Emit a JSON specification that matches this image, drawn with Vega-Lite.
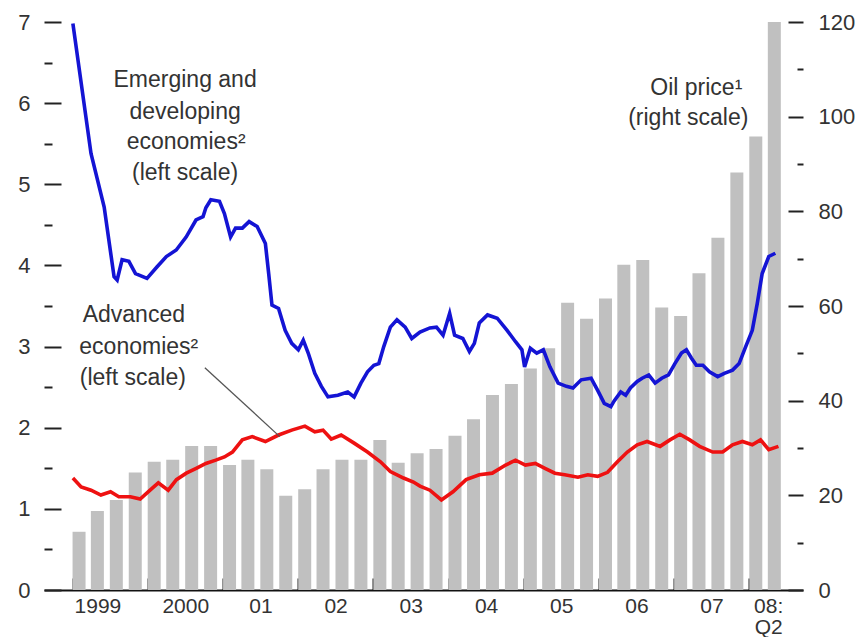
{
  "$schema": "https://vega.github.io/schema/vega-lite/v6.json",
  "width": 759,
  "height": 568,
  "autosize": {"type": "none"},
  "padding": {"left": 44, "top": 22, "right": 56, "bottom": 47},
  "background": "white",
  "config": {
    "view": {"stroke": null},
    "axis": {"labelFont": "Liberation Sans", "labelFontSize": 22, "labelColor": "#333", "tickColor": "#222", "grid": false, "title": null}
  },
  "datasets": {
    "oil": [
      {"q": "1999-02-01", "p": 12.3}, {"q": "1999-05-01", "p": 16.7}, {"q": "1999-08-01", "p": 19.0}, {"q": "1999-11-01", "p": 24.8},
      {"q": "2000-02-01", "p": 27.1}, {"q": "2000-05-01", "p": 27.5}, {"q": "2000-08-01", "p": 30.4}, {"q": "2000-11-01", "p": 30.4},
      {"q": "2001-02-01", "p": 26.4}, {"q": "2001-05-01", "p": 27.5}, {"q": "2001-08-01", "p": 25.5}, {"q": "2001-11-01", "p": 19.9},
      {"q": "2002-02-01", "p": 21.3}, {"q": "2002-05-01", "p": 25.5}, {"q": "2002-08-01", "p": 27.5}, {"q": "2002-11-01", "p": 27.5},
      {"q": "2003-02-01", "p": 31.7}, {"q": "2003-05-01", "p": 26.9}, {"q": "2003-08-01", "p": 28.9}, {"q": "2003-11-01", "p": 29.8},
      {"q": "2004-02-01", "p": 32.6}, {"q": "2004-05-01", "p": 36.1}, {"q": "2004-08-01", "p": 41.2}, {"q": "2004-11-01", "p": 43.5},
      {"q": "2005-02-01", "p": 46.8}, {"q": "2005-05-01", "p": 51.1}, {"q": "2005-08-01", "p": 60.7}, {"q": "2005-11-01", "p": 57.3},
      {"q": "2006-02-01", "p": 61.6}, {"q": "2006-05-01", "p": 68.7}, {"q": "2006-08-01", "p": 69.7}, {"q": "2006-11-01", "p": 59.7},
      {"q": "2007-02-01", "p": 57.9}, {"q": "2007-05-01", "p": 66.9}, {"q": "2007-08-01", "p": 74.4}, {"q": "2007-11-01", "p": 88.2},
      {"q": "2008-02-01", "p": 95.8}, {"q": "2008-05-01", "p": 120.0}
    ],
    "lines": [
      {"d": "1999-01-02", "v": 6.98, "s": "E"}, {"d": "1999-03-31", "v": 5.38, "s": "E"}, {"d": "1999-06-03", "v": 4.72, "s": "E"},
      {"d": "1999-07-21", "v": 3.86, "s": "E"}, {"d": "1999-08-05", "v": 3.82, "s": "E"}, {"d": "1999-08-29", "v": 4.07, "s": "E"},
      {"d": "1999-10-01", "v": 4.05, "s": "E"}, {"d": "1999-11-02", "v": 3.90, "s": "E"}, {"d": "1999-12-28", "v": 3.84, "s": "E"},
      {"d": "2000-02-14", "v": 3.98, "s": "E"}, {"d": "2000-03-31", "v": 4.11, "s": "E"}, {"d": "2000-05-18", "v": 4.19, "s": "E"},
      {"d": "2000-07-05", "v": 4.35, "s": "E"}, {"d": "2000-08-22", "v": 4.56, "s": "E"}, {"d": "2000-09-25", "v": 4.60, "s": "E"},
      {"d": "2000-10-09", "v": 4.71, "s": "E"}, {"d": "2000-11-02", "v": 4.81, "s": "E"}, {"d": "2000-12-14", "v": 4.79, "s": "E"},
      {"d": "2001-01-07", "v": 4.64, "s": "E"}, {"d": "2001-02-06", "v": 4.35, "s": "E"}, {"d": "2001-03-02", "v": 4.46, "s": "E"},
      {"d": "2001-04-04", "v": 4.46, "s": "E"}, {"d": "2001-05-07", "v": 4.54, "s": "E"}, {"d": "2001-06-15", "v": 4.48, "s": "E"},
      {"d": "2001-07-25", "v": 4.27, "s": "E"}, {"d": "2001-08-10", "v": 3.90, "s": "E"}, {"d": "2001-08-26", "v": 3.51, "s": "E"},
      {"d": "2001-09-27", "v": 3.47, "s": "E"}, {"d": "2001-10-29", "v": 3.20, "s": "E"}, {"d": "2001-11-30", "v": 3.04, "s": "E"},
      {"d": "2002-01-01", "v": 2.96, "s": "E"}, {"d": "2002-01-25", "v": 3.08, "s": "E"}, {"d": "2002-02-18", "v": 2.92, "s": "E"},
      {"d": "2002-03-22", "v": 2.67, "s": "E"}, {"d": "2002-04-23", "v": 2.51, "s": "E"}, {"d": "2002-05-25", "v": 2.38, "s": "E"},
      {"d": "2002-07-12", "v": 2.40, "s": "E"}, {"d": "2002-08-29", "v": 2.44, "s": "E"}, {"d": "2002-09-29", "v": 2.38, "s": "E"},
      {"d": "2002-11-01", "v": 2.55, "s": "E"}, {"d": "2002-12-03", "v": 2.69, "s": "E"}, {"d": "2003-01-03", "v": 2.77, "s": "E"},
      {"d": "2003-01-27", "v": 2.79, "s": "E"}, {"d": "2003-02-20", "v": 3.00, "s": "E"}, {"d": "2003-03-24", "v": 3.24, "s": "E"},
      {"d": "2003-04-25", "v": 3.33, "s": "E"}, {"d": "2003-06-04", "v": 3.24, "s": "E"}, {"d": "2003-07-06", "v": 3.10, "s": "E"},
      {"d": "2003-08-15", "v": 3.18, "s": "E"}, {"d": "2003-10-02", "v": 3.23, "s": "E"}, {"d": "2003-11-03", "v": 3.24, "s": "E"},
      {"d": "2003-12-05", "v": 3.14, "s": "E"}, {"d": "2004-01-06", "v": 3.41, "s": "E"}, {"d": "2004-01-30", "v": 3.14, "s": "E"},
      {"d": "2004-03-10", "v": 3.10, "s": "E"}, {"d": "2004-04-11", "v": 2.94, "s": "E"}, {"d": "2004-05-05", "v": 3.04, "s": "E"},
      {"d": "2004-05-29", "v": 3.29, "s": "E"}, {"d": "2004-07-08", "v": 3.39, "s": "E"}, {"d": "2004-08-24", "v": 3.35, "s": "E"},
      {"d": "2004-10-11", "v": 3.20, "s": "E"}, {"d": "2004-11-21", "v": 3.06, "s": "E"}, {"d": "2004-12-22", "v": 2.96, "s": "E"},
      {"d": "2005-01-04", "v": 2.75, "s": "E"}, {"d": "2005-02-01", "v": 2.98, "s": "E"}, {"d": "2005-03-04", "v": 2.92, "s": "E"},
      {"d": "2005-04-05", "v": 2.96, "s": "E"}, {"d": "2005-05-07", "v": 2.75, "s": "E"}, {"d": "2005-06-16", "v": 2.55, "s": "E"},
      {"d": "2005-07-26", "v": 2.51, "s": "E"}, {"d": "2005-08-27", "v": 2.49, "s": "E"}, {"d": "2005-10-06", "v": 2.59, "s": "E"},
      {"d": "2005-11-23", "v": 2.61, "s": "E"}, {"d": "2005-12-25", "v": 2.46, "s": "E"}, {"d": "2006-01-26", "v": 2.30, "s": "E"},
      {"d": "2006-02-27", "v": 2.26, "s": "E"}, {"d": "2006-03-15", "v": 2.33, "s": "E"}, {"d": "2006-04-16", "v": 2.44, "s": "E"},
      {"d": "2006-05-10", "v": 2.40, "s": "E"}, {"d": "2006-06-02", "v": 2.49, "s": "E"}, {"d": "2006-07-05", "v": 2.57, "s": "E"},
      {"d": "2006-07-29", "v": 2.61, "s": "E"}, {"d": "2006-08-30", "v": 2.65, "s": "E"}, {"d": "2006-09-30", "v": 2.55, "s": "E"},
      {"d": "2006-11-01", "v": 2.61, "s": "E"}, {"d": "2006-12-04", "v": 2.65, "s": "E"}, {"d": "2007-01-04", "v": 2.79, "s": "E"},
      {"d": "2007-02-05", "v": 2.92, "s": "E"}, {"d": "2007-03-01", "v": 2.96, "s": "E"}, {"d": "2007-03-25", "v": 2.86, "s": "E"},
      {"d": "2007-04-18", "v": 2.77, "s": "E"}, {"d": "2007-05-20", "v": 2.77, "s": "E"}, {"d": "2007-06-21", "v": 2.69, "s": "E"},
      {"d": "2007-07-31", "v": 2.63, "s": "E"}, {"d": "2007-09-01", "v": 2.67, "s": "E"}, {"d": "2007-10-11", "v": 2.71, "s": "E"},
      {"d": "2007-11-12", "v": 2.79, "s": "E"}, {"d": "2007-12-14", "v": 3.00, "s": "E"}, {"d": "2008-01-15", "v": 3.20, "s": "E"},
      {"d": "2008-02-08", "v": 3.53, "s": "E"}, {"d": "2008-03-03", "v": 3.90, "s": "E"}, {"d": "2008-04-04", "v": 4.11, "s": "E"},
      {"d": "2008-05-06", "v": 4.15, "s": "E"},
      {"d": "1999-01-02", "v": 1.38, "s": "A"}, {"d": "1999-02-11", "v": 1.27, "s": "A"}, {"d": "1999-03-31", "v": 1.23, "s": "A"},
      {"d": "1999-05-18", "v": 1.17, "s": "A"}, {"d": "1999-07-04", "v": 1.21, "s": "A"}, {"d": "1999-08-13", "v": 1.15, "s": "A"},
      {"d": "1999-10-08", "v": 1.15, "s": "A"}, {"d": "1999-11-25", "v": 1.12, "s": "A"}, {"d": "2000-01-12", "v": 1.23, "s": "A"},
      {"d": "2000-02-21", "v": 1.32, "s": "A"}, {"d": "2000-04-09", "v": 1.23, "s": "A"}, {"d": "2000-05-19", "v": 1.36, "s": "A"},
      {"d": "2000-07-06", "v": 1.44, "s": "A"}, {"d": "2000-08-23", "v": 1.50, "s": "A"}, {"d": "2000-10-09", "v": 1.56, "s": "A"},
      {"d": "2000-11-26", "v": 1.60, "s": "A"}, {"d": "2001-01-07", "v": 1.64, "s": "A"}, {"d": "2001-02-15", "v": 1.70, "s": "A"},
      {"d": "2001-04-04", "v": 1.85, "s": "A"}, {"d": "2001-05-22", "v": 1.89, "s": "A"}, {"d": "2001-07-25", "v": 1.83, "s": "A"},
      {"d": "2001-09-27", "v": 1.91, "s": "A"}, {"d": "2001-11-30", "v": 1.97, "s": "A"}, {"d": "2002-02-02", "v": 2.02, "s": "A"},
      {"d": "2002-03-22", "v": 1.95, "s": "A"}, {"d": "2002-05-01", "v": 1.97, "s": "A"}, {"d": "2002-06-10", "v": 1.86, "s": "A"},
      {"d": "2002-07-28", "v": 1.91, "s": "A"}, {"d": "2002-09-29", "v": 1.81, "s": "A"}, {"d": "2002-12-03", "v": 1.70, "s": "A"},
      {"d": "2003-02-04", "v": 1.58, "s": "A"}, {"d": "2003-03-24", "v": 1.46, "s": "A"}, {"d": "2003-05-27", "v": 1.38, "s": "A"},
      {"d": "2003-07-14", "v": 1.33, "s": "A"}, {"d": "2003-08-15", "v": 1.28, "s": "A"}, {"d": "2003-10-02", "v": 1.23, "s": "A"},
      {"d": "2003-11-27", "v": 1.11, "s": "A"}, {"d": "2004-01-22", "v": 1.21, "s": "A"}, {"d": "2004-03-26", "v": 1.36, "s": "A"},
      {"d": "2004-05-29", "v": 1.42, "s": "A"}, {"d": "2004-07-31", "v": 1.44, "s": "A"}, {"d": "2004-10-04", "v": 1.54, "s": "A"},
      {"d": "2004-11-21", "v": 1.60, "s": "A"}, {"d": "2005-01-08", "v": 1.54, "s": "A"}, {"d": "2005-02-25", "v": 1.56, "s": "A"},
      {"d": "2005-04-13", "v": 1.50, "s": "A"}, {"d": "2005-05-31", "v": 1.44, "s": "A"}, {"d": "2005-07-18", "v": 1.42, "s": "A"},
      {"d": "2005-09-20", "v": 1.39, "s": "A"}, {"d": "2005-11-07", "v": 1.42, "s": "A"}, {"d": "2005-12-25", "v": 1.40, "s": "A"},
      {"d": "2006-02-11", "v": 1.45, "s": "A"}, {"d": "2006-03-31", "v": 1.58, "s": "A"}, {"d": "2006-05-18", "v": 1.70, "s": "A"},
      {"d": "2006-07-05", "v": 1.79, "s": "A"}, {"d": "2006-08-22", "v": 1.83, "s": "A"}, {"d": "2006-10-24", "v": 1.77, "s": "A"},
      {"d": "2006-12-11", "v": 1.85, "s": "A"}, {"d": "2007-01-28", "v": 1.92, "s": "A"}, {"d": "2007-03-17", "v": 1.85, "s": "A"},
      {"d": "2007-05-04", "v": 1.77, "s": "A"}, {"d": "2007-07-07", "v": 1.70, "s": "A"}, {"d": "2007-08-24", "v": 1.70, "s": "A"},
      {"d": "2007-10-11", "v": 1.79, "s": "A"}, {"d": "2007-11-28", "v": 1.83, "s": "A"}, {"d": "2008-01-15", "v": 1.79, "s": "A"},
      {"d": "2008-02-24", "v": 1.85, "s": "A"}, {"d": "2008-04-04", "v": 1.73, "s": "A"}, {"d": "2008-05-21", "v": 1.77, "s": "A"}
    ],
    "notes": [
      {"d": "2000-06-30", "v": 6.285, "t": "Emerging and"},
      {"d": "2000-06-30", "v": 5.891, "t": "developing"},
      {"d": "2000-07-05", "v": 5.521, "t": "economies²"},
      {"d": "2000-06-30", "v": 5.139, "t": "(left scale)"},
      {"d": "2007-04-18", "v": 6.187, "t": "Oil price¹"},
      {"d": "2007-03-10", "v": 5.817, "t": "(right scale)"},
      {"d": "1999-10-25", "v": 3.389, "t": "Advanced"},
      {"d": "1999-11-18", "v": 2.995, "t": "economies²"},
      {"d": "1999-10-20", "v": 2.613, "t": "(left scale)"}
    ],
    "leader": [
      {"d1": "2000-10-04", "v1": 2.74, "d2": "2001-10-03", "v2": 1.89}
    ]
  },
  "layer": [
    {
      "data": {"name": "oil"},
      "mark": {"type": "bar", "color": "#c0c0c0", "size": 13},
      "encoding": {
        "x": {
          "field": "q", "type": "temporal",
          "scale": {"type": "utc", "domain": [{"year": 1998, "month": 9, "date": 8, "utc": true}, {"year": 2008, "month": 8, "date": 24, "utc": true}]},
          "axis": {
            "orient": "bottom",
            "values": [
              {"year": 1999, "month": 1, "date": 1, "utc": true}, {"year": 2000, "month": 1, "date": 1, "utc": true},
              {"year": 2001, "month": 1, "date": 1, "utc": true}, {"year": 2002, "month": 1, "date": 1, "utc": true},
              {"year": 2003, "month": 1, "date": 1, "utc": true}, {"year": 2004, "month": 1, "date": 1, "utc": true},
              {"year": 2005, "month": 1, "date": 1, "utc": true}, {"year": 2006, "month": 1, "date": 1, "utc": true},
              {"year": 2007, "month": 1, "date": 1, "utc": true}, {"year": 2008, "month": 1, "date": 1, "utc": true}
            ],
            "labels": false,
            "tickSize": -12,
            "tickWidth": 2,
            "domain": true,
            "domainColor": "#111",
            "domainWidth": 2
          }
        },
        "y": {
          "field": "p", "type": "quantitative",
          "scale": {"domain": [0, 120], "nice": false},
          "axis": {
            "orient": "right",
            "values": [0, 10, 20, 30, 40, 50, 60, 70, 80, 90, 100, 110, 120],
            "labelExpr": "datum.value % 20 === 0 ? format(datum.value, 'd') : ''",
            "tickSize": {"condition": {"test": "datum.value % 20 !== 0", "value": -6}, "value": -15},
            "tickWidth": 2,
            "labelPadding": 30,
            "labelAlign": "left",
            "domain": false
          }
        }
      }
    },
    {
      "data": {"name": "lines"},
      "mark": {"type": "line", "strokeWidth": 3.6},
      "encoding": {
        "x": {
          "field": "d", "type": "temporal",
          "scale": {"type": "utc", "domain": [{"year": 1998, "month": 9, "date": 8, "utc": true}, {"year": 2008, "month": 8, "date": 24, "utc": true}]},
          "axis": {
            "orient": "bottom",
            "values": [
              {"year": 1999, "month": 5, "date": 1, "utc": true}, {"year": 2000, "month": 7, "date": 1, "utc": true},
              {"year": 2001, "month": 7, "date": 1, "utc": true}, {"year": 2002, "month": 7, "date": 1, "utc": true},
              {"year": 2003, "month": 7, "date": 1, "utc": true}, {"year": 2004, "month": 7, "date": 1, "utc": true},
              {"year": 2005, "month": 7, "date": 1, "utc": true}, {"year": 2006, "month": 7, "date": 1, "utc": true},
              {"year": 2007, "month": 7, "date": 1, "utc": true}, {"year": 2008, "month": 4, "date": 1, "utc": true}
            ],
            "labelExpr": "utcyear(datum.value) == 1999 ? '1999' : utcyear(datum.value) == 2000 ? '2000' : utcyear(datum.value) == 2008 ? ['08:', 'Q2'] : '0' + (utcyear(datum.value) - 2000)",
            "ticks": false,
            "domain": false,
            "labelFontSize": 21,
            "labelPadding": 5,
            "labelLineHeight": 21,
            "labelBaseline": "top",
            "labelFlush": false,
            "labelOverlap": false
          }
        },
        "y": {
          "field": "v", "type": "quantitative",
          "scale": {"domain": [0, 7], "nice": false},
          "axis": {
            "orient": "left",
            "values": [0, 0.5, 1, 1.5, 2, 2.5, 3, 3.5, 4, 4.5, 5, 5.5, 6, 6.5, 7],
            "labelExpr": "datum.value % 1 === 0 ? format(datum.value, 'd') : ''",
            "tickSize": {"condition": {"test": "datum.value % 1 !== 0", "value": -8}, "value": -17},
            "tickWidth": 2,
            "labelPadding": 31,
            "domain": false
          }
        },
        "color": {"field": "s", "type": "nominal", "scale": {"domain": ["E", "A"], "range": ["#1414d4", "#ee1111"]}, "legend": null}
      }
    },
    {
      "data": {"name": "leader"},
      "mark": {"type": "rule", "color": "#555", "strokeWidth": 1.3},
      "encoding": {
        "x": {"field": "d1", "type": "temporal", "axis": null},
        "x2": {"field": "d2"},
        "y": {"field": "v1", "type": "quantitative", "scale": {"domain": [0, 7], "nice": false}, "axis": null},
        "y2": {"field": "v2"}
      }
    },
    {
      "data": {"name": "notes"},
      "mark": {"type": "text", "font": "Liberation Sans", "fontSize": 23, "color": "#333", "align": "center", "baseline": "middle"},
      "encoding": {
        "x": {"field": "d", "type": "temporal", "axis": null},
        "y": {"field": "v", "type": "quantitative", "scale": {"domain": [0, 7], "nice": false}, "axis": null},
        "text": {"field": "t"}
      }
    }
  ],
  "resolve": {"scale": {"y": "independent"}, "axis": {"x": "independent"}}
}
